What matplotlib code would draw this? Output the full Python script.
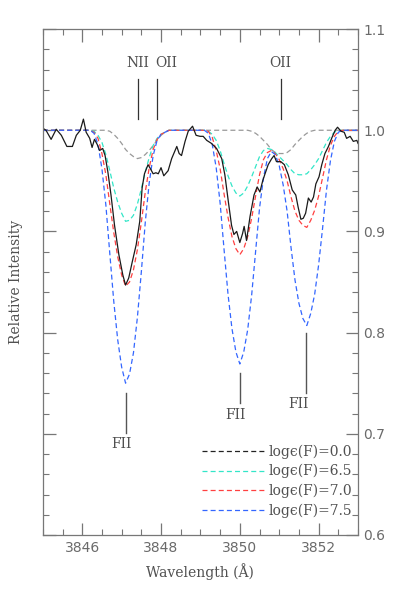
import matplotlib.pyplot as plt
import numpy as np
from matplotlib.lines import Line2D
from matplotlib.ticker import MultipleLocator

obs_wave = [3845.00, 3845.08, 3845.21, 3845.34, 3845.47, 3845.61, 3845.75, 3845.85, 3845.95,
            3846.03, 3846.10, 3846.19, 3846.25, 3846.31, 3846.38, 3846.44, 3846.52, 3846.58,
            3846.65, 3846.73, 3846.82, 3846.93, 3847.03, 3847.10, 3847.18, 3847.27, 3847.37,
            3847.46, 3847.52, 3847.58, 3847.67, 3847.73, 3847.80, 3847.87, 3847.93, 3848.00,
            3848.07, 3848.18, 3848.27, 3848.40, 3848.46, 3848.52, 3848.61, 3848.69, 3848.80,
            3848.89, 3848.99, 3849.07, 3849.16, 3849.28, 3849.41, 3849.54, 3849.62, 3849.71,
            3849.79, 3849.85, 3849.92, 3850.00, 3850.07, 3850.11, 3850.17, 3850.26, 3850.36,
            3850.44, 3850.51, 3850.58, 3850.64, 3850.72, 3850.81, 3850.87, 3850.93, 3851.04,
            3851.13, 3851.23, 3851.33, 3851.42, 3851.48, 3851.55, 3851.61, 3851.67, 3851.74,
            3851.81, 3851.87, 3851.93, 3852.01, 3852.08, 3852.16, 3852.25, 3852.33, 3852.42,
            3852.48, 3852.57, 3852.65, 3852.71, 3852.80, 3852.88, 3852.97, 3853.00]
obs_flux = [1.002, 1.000, 0.991, 1.001, 0.995, 0.984, 0.984, 0.995, 1.000,
            1.011, 0.998, 0.992, 0.983, 0.991, 0.986, 0.980, 0.982, 0.975,
            0.959, 0.936, 0.906, 0.877, 0.857, 0.847, 0.854, 0.870, 0.887,
            0.910, 0.943, 0.957, 0.966, 0.962, 0.957, 0.958, 0.957, 0.963,
            0.955, 0.960, 0.972, 0.984, 0.977, 0.975, 0.989, 0.999, 1.004,
            0.995, 0.994, 0.994, 0.990, 0.987, 0.982, 0.972, 0.956, 0.929,
            0.906, 0.897, 0.900, 0.889, 0.898, 0.905, 0.891, 0.915, 0.936,
            0.944, 0.939, 0.950, 0.957, 0.966, 0.972, 0.975, 0.969, 0.969,
            0.966, 0.956, 0.941, 0.936, 0.924, 0.912, 0.913, 0.918, 0.933,
            0.929, 0.934, 0.947, 0.954, 0.966, 0.977, 0.984, 0.992, 1.000,
            1.003, 0.999, 0.998, 0.992, 0.994, 0.989, 0.990, 0.987]

# synthetic spectra, 0.1 A sampling from 3845.0 to 3853.0
model_wave = np.round(np.linspace(3845.0, 3853.0, 81), 1)
flux_00 = ([1.0] * 17 +
           [0.999, 0.996, 0.992, 0.987, 0.981, 0.977, 0.974, 0.972, 0.973, 0.976, 0.980,
            0.985, 0.990, 0.995, 0.998] +
           [1.0] * 21 +
           [0.999, 0.997, 0.994, 0.990, 0.986, 0.981, 0.978, 0.977, 0.977, 0.978, 0.981,
            0.986, 0.990, 0.994, 0.997, 0.999] +
           [1.0] * 12)
flux_65 = ([1.0] * 13 +
           [0.999, 0.995, 0.988, 0.976, 0.960, 0.943, 0.929, 0.918, 0.910, 0.911, 0.916,
            0.927, 0.942, 0.959, 0.973, 0.985, 0.992, 0.996, 0.998] +
           [1.0] * 10 +
           [0.999, 0.996, 0.990, 0.980, 0.967, 0.955, 0.945, 0.938, 0.935, 0.938, 0.945,
            0.954, 0.964, 0.974, 0.980, 0.982, 0.981, 0.978, 0.974, 0.970, 0.966, 0.961,
            0.957, 0.956, 0.956, 0.957, 0.961, 0.966, 0.972, 0.980, 0.988, 0.994, 0.998,
            1.000] +
           [1.0] * 5)
flux_70 = ([1.0] * 13 +
           [0.998, 0.992, 0.977, 0.956, 0.927, 0.899, 0.875, 0.857, 0.846, 0.850, 0.862,
            0.882, 0.909, 0.939, 0.963, 0.981, 0.991, 0.996, 0.998] +
           [1.0] * 10 +
           [0.999, 0.993, 0.980, 0.962, 0.937, 0.914, 0.895, 0.883, 0.877, 0.883, 0.895,
            0.913, 0.935, 0.956, 0.971, 0.978, 0.980, 0.977, 0.971, 0.962, 0.950, 0.934,
            0.920, 0.911, 0.906, 0.904, 0.911, 0.921, 0.935, 0.953, 0.971, 0.985, 0.994,
            0.999] +
           [1.0] * 5)
flux_75 = ([1.0] * 13 +
           [0.997, 0.986, 0.962, 0.926, 0.878, 0.831, 0.793, 0.766, 0.750, 0.759, 0.780,
            0.815, 0.860, 0.909, 0.948, 0.975, 0.990, 0.996, 0.998] +
           [1.0] * 10 +
           [0.997, 0.986, 0.963, 0.928, 0.882, 0.838, 0.804, 0.781, 0.769, 0.781, 0.803,
            0.837, 0.880, 0.923, 0.953, 0.972, 0.979, 0.976, 0.965, 0.946, 0.920, 0.884,
            0.852, 0.829, 0.814, 0.807, 0.819, 0.838, 0.867, 0.903, 0.941, 0.970, 0.989,
            0.998] +
           [1.0] * 5)

model_labels = ['log\u03f5(F)=0.0', 'log\u03f5(F)=6.5', 'log\u03f5(F)=7.0', 'log\u03f5(F)=7.5']

# line identifications
top_ids = ['NII', 'OII', 'OII']
top_waves = [3847.42, 3847.90, 3851.05]
top_text_x = [3847.42, 3848.14, 3851.03]
fii_waves = [3847.10, 3850.00, 3851.68]
fii_text_x = [3846.99, 3849.89, 3851.50]
fii_top = [0.740, 0.760, 0.800]
fii_bot = [0.701, 0.730, 0.740]
fii_text_y = [0.690, 0.719, 0.729]

plt.rcParams['font.family'] = ['DejaVu Serif']
txt = '#505050'
axc = '#777777'

fig = plt.figure(figsize=(3.93, 5.91), dpi=100)
ax = fig.add_axes([0.109, 0.0948, 0.802, 0.856])

dash = (0, (4, 2.5))
ax.plot(model_wave, flux_00, color='#999999', lw=0.9, ls=dash)
ax.plot(model_wave, flux_65, color='#33e6c8', lw=0.9, ls=dash)
ax.plot(model_wave, flux_70, color='#ff4040', lw=0.9, ls=dash)
ax.plot(model_wave, flux_75, color='#3366ff', lw=0.9, ls=dash)
ax.plot(obs_wave, obs_flux, color='#1a1a1a', lw=0.9)

for name, w, tx in zip(top_ids, top_waves, top_text_x):
    ax.plot([w, w], [1.011, 1.051], color='#333333', lw=0.9)
    ax.text(tx, 1.066, name, ha='center', va='center', fontsize=10, color=txt)

for w, tx, y0, y1, ty in zip(fii_waves, fii_text_x, fii_top, fii_bot, fii_text_y):
    ax.plot([w, w], [y0, y1], color='#555555', lw=1.0)
    ax.text(tx, ty, 'FII', ha='center', va='center', fontsize=10, color=txt)

handles = [Line2D([], [], color=c, lw=0.9, ls=dash)
           for c in ['#222222', '#33e6c8', '#ff4040', '#3366ff']]
leg = ax.legend(handles, model_labels, loc='lower right', bbox_to_anchor=(1.0, 0.023),
                frameon=False, fontsize=10, handlelength=4.6, handletextpad=0.2,
                labelspacing=0.38, borderaxespad=0.0)
for t in leg.get_texts():
    t.set_color(txt)

ax.set_xlim(3845, 3853)
ax.set_ylim(0.6, 1.1)
ax.xaxis.set_major_locator(MultipleLocator(2))
ax.xaxis.set_minor_locator(MultipleLocator(0.5))
ax.yaxis.set_major_locator(MultipleLocator(0.1))
ax.yaxis.set_minor_locator(MultipleLocator(0.02))
ax.tick_params(which='both', direction='in', top=True, right=True, left=True, bottom=True,
               labelleft=False, labelright=True, colors=axc, labelcolor='#6a6a6a',
               labelsize=10)
ax.tick_params(which='major', length=9, width=0.9, pad=4)
ax.tick_params(which='minor', length=4.5, width=0.8)
for lab in ax.get_xticklabels() + ax.get_yticklabels():
    lab.set_family('DejaVu Sans')
for s in ax.spines.values():
    s.set_color(axc)
    s.set_linewidth(0.9)

ax.set_xlabel('Wavelength (\u00c5)', fontsize=10, color=txt, labelpad=6)
ax.set_ylabel('Relative Intensity', fontsize=10, color=txt, labelpad=14)

fig.savefig('out.png', dpi=100)
